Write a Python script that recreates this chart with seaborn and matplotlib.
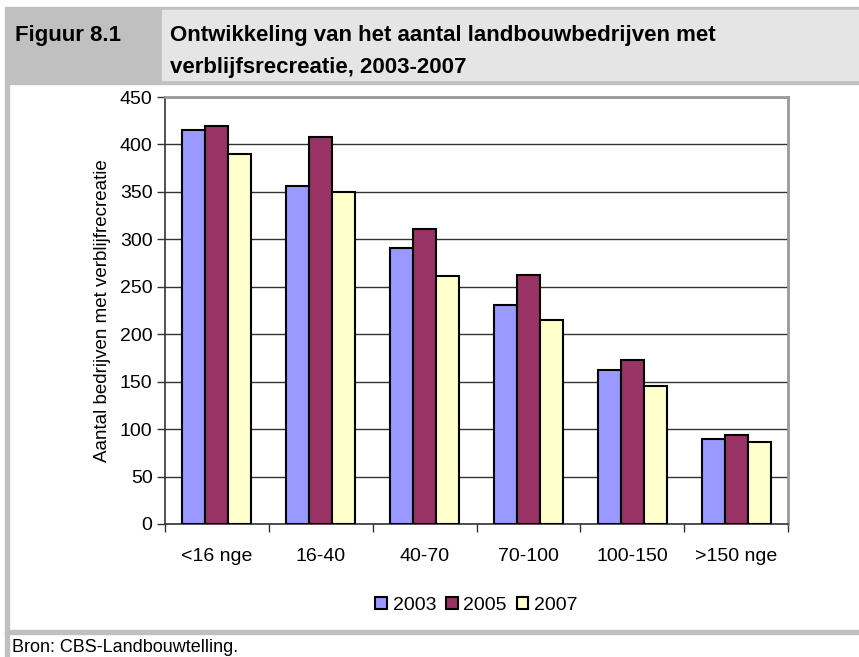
import numpy as np
import pandas as pd
import seaborn as sns
import matplotlib.pyplot as plt
from matplotlib.patches import Rectangle

# data
klassen = ["<16 nge", "16-40", "40-70", "70-100", "100-150", ">150 nge"]
jaren = ["2003", "2005", "2007"]
v2003 = [415, 356, 291, 231, 162, 90]
v2005 = [419, 408, 311, 262, 173, 94]
v2007 = [390, 350, 261, 215, 145, 86]
kleuren = ["#9999FF", "#993366", "#FFFFCC"]

df = pd.DataFrame({
    "klasse": klassen * 3,
    "jaar": [j for j in jaren for _ in klassen],
    "aantal": v2003 + v2005 + v2007,
})

sns.set_style("white")
plt.rcParams['font.family'] = ['Liberation Sans', 'DejaVu Sans']
plt.rcParams['text.color'] = 'black'
plt.rcParams['axes.labelcolor'] = 'black'
plt.rcParams['xtick.color'] = 'black'
plt.rcParams['ytick.color'] = 'black'

fig = plt.figure(figsize=(8.59, 6.57), dpi=100)
W, H = 859, 657

def rect(x, y, w, h, color):
    # pixel coords, y from top
    fig.patches.append(Rectangle((x / W, 1 - (y + h) / H), w / W, h / H,
                                 transform=fig.transFigure, color=color, zorder=0))

# header and frame
rect(5, 7, 854, 77, "#c0c0c0")
rect(162, 10, 697, 70, "#e5e5e5")
rect(5, 84, 4, 573, "#c0c0c0")
rect(5, 630, 854, 4, "#c0c0c0")

fig.text(15 / W, 1 - 35 / H, "Figuur 8.1", fontsize=16, fontweight="bold", va="center")
fig.text(170 / W, 1 - 35 / H, "Ontwikkeling van het aantal landbouwbedrijven met",
         fontsize=16, fontweight="bold", va="center")
fig.text(170 / W, 1 - 68 / H, "verblijfsrecreatie, 2003-2007",
         fontsize=16, fontweight="bold", va="center")
fig.text(12 / W, 1 - 648 / H, "Bron: CBS-Landbouwtelling.", fontsize=13, va="center")

ax = fig.add_axes([165 / W, 1 - 524 / H, (788 - 165) / W, (524 - 97) / H])
sns.barplot(data=df, x="klasse", y="aantal", hue="jaar", palette=kleuren,
            saturation=1, width=0.665, edgecolor="black", linewidth=1.5,
            ax=ax, zorder=3)

ax.set_ylim(0, 450)
ax.set_yticks(np.arange(0, 451, 50))
ax.set_xlim(-0.5, 5.5)
ax.yaxis.grid(True, color="#333333", linewidth=1, zorder=0)
ax.set_axisbelow(True)
ax.set_xlabel("")
ax.set_ylabel("Aantal bedrijven met verblijfrecreatie", fontsize=13.5, labelpad=6)
ax.tick_params(axis="y", left=True, length=6, width=1, labelsize=14,
               color="#333333", pad=3)
ax.tick_params(axis="x", bottom=False, labelsize=14, pad=14)
ax.set_xticks(np.arange(-0.5, 6, 1), minor=True)
ax.tick_params(axis="x", which="minor", bottom=True, length=6, width=1, color="#333333")
for s in ["left", "bottom"]:
    ax.spines[s].set_color("#333333")
    ax.spines[s].set_linewidth(1.2)
for s in ["top", "right"]:
    ax.spines[s].set_color("#999999")
    ax.spines[s].set_linewidth(2)

ax.legend(loc="center", bbox_to_anchor=(0.5, -0.19), ncol=3, frameon=False,
          fontsize=14, handlelength=0.6, handleheight=0.6, handletextpad=0.3,
          columnspacing=0.5)

fig.savefig("out.png", dpi=100)
